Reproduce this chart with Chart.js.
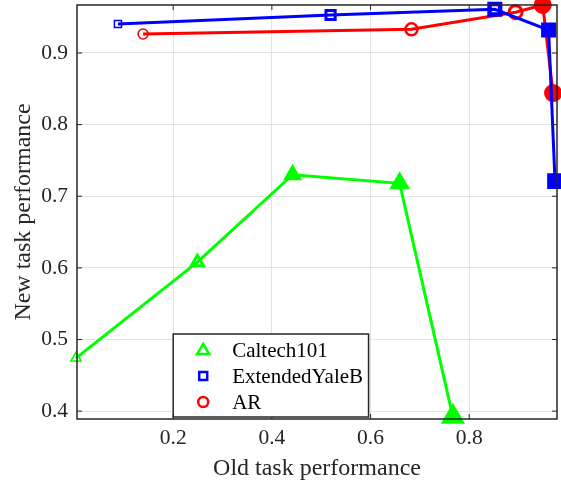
<!DOCTYPE html>
<html>
<head>
<meta charset="utf-8">
<script src="https://cdn.jsdelivr.net/npm/chart.js@4"></script>
<style>
  html, body { margin: 0; padding: 0; background: #fff; }
  #wrap { width: 561px; height: 489px; }
</style>
</head>
<body>
<div id="wrap"><canvas id="chart" width="561" height="489"></canvas></div>
<script>
/* =========================
   DATOS
========================= */
const caltechX = [0.003, 0.249, 0.442, 0.659, 0.767];
const caltechY = [0.474, 0.608, 0.730, 0.718, 0.392];
const yaleX = [0.088, 0.519, 0.852, 0.961, 0.974];
const yaleY = [0.9405, 0.953, 0.961, 0.932, 0.721];
const arX = [0.139, 0.683, 0.894, 0.949, 0.970];
const arY = [0.9265, 0.933, 0.957, 0.967, 0.844];

const xTicks = [0.2, 0.4, 0.6, 0.8];
const yTicks = [0.4, 0.5, 0.6, 0.7, 0.8, 0.9];

const FONT = "'Liberation Serif', 'Times New Roman', serif";
const INK = "#262626";

function pts(xs, ys) {
    return xs.map((x, i) => ({ x: x, y: ys[i] }));
}

/* =========================
   EJES: caja y ticks hacia dentro
========================= */
const boxPlugin = {
    id: "box",
    afterDatasetsDraw(chart) {
        const { ctx, chartArea: a, scales } = chart;
        ctx.save();
        ctx.strokeStyle = INK;
        ctx.lineWidth = 1.5;
        ctx.strokeRect(a.left, a.top, a.right - a.left, a.bottom - a.top);
        ctx.lineWidth = 1;
        xTicks.forEach(v => {
            const px = scales.x.getPixelForValue(v);
            ctx.beginPath();
            ctx.moveTo(px, a.bottom); ctx.lineTo(px, a.bottom - 5);
            ctx.moveTo(px, a.top); ctx.lineTo(px, a.top + 5);
            ctx.stroke();
        });
        yTicks.forEach(v => {
            const py = scales.y.getPixelForValue(v);
            ctx.beginPath();
            ctx.moveTo(a.left, py); ctx.lineTo(a.left + 5, py);
            ctx.moveTo(a.right, py); ctx.lineTo(a.right - 5, py);
            ctx.stroke();
        });
        ctx.restore();
    }
};

/* =========================
   LEYENDA dentro del grafico
========================= */
const legendPlugin = {
    id: "innerLegend",
    afterDraw(chart) {
        const { ctx, scales } = chart;
        const x0 = scales.x.getPixelForValue(0.2);
        const x1 = scales.x.getPixelForValue(0.596);
        const y0 = 334, y1 = 417;
        ctx.save();
        ctx.fillStyle = "#fff";
        ctx.fillRect(x0, y0, x1 - x0, y1 - y0);
        ctx.strokeStyle = INK;
        ctx.lineWidth = 1.5;
        ctx.strokeRect(x0, y0, x1 - x0, y1 - y0);
        ctx.font = "21px " + FONT;
        ctx.textBaseline = "middle";
        chart.data.datasets.forEach((ds, i) => {
            const cy = 350 + i * 26;
            const cx = x0 + 30;
            ctx.strokeStyle = ds.borderColor;
            ctx.lineWidth = 2.5;
            ctx.beginPath();
            if (ds.pointStyle === "triangle") {
                ctx.moveTo(cx, cy - 6); ctx.lineTo(cx + 6, cy + 4); ctx.lineTo(cx - 6, cy + 4); ctx.closePath();
            } else if (ds.pointStyle === "rect") {
                ctx.rect(cx - 4, cy - 4, 8, 8);
            } else {
                ctx.arc(cx, cy, 5, 0, Math.PI * 2);
            }
            ctx.stroke();
            ctx.fillStyle = "#000";
            ctx.fillText(ds.label, x0 + 59, cy + 1);
        });
        ctx.restore();
    }
};

/* =========================
   GRAFICO
========================= */
new Chart(document.getElementById("chart"), {
    type: "scatter",
    data: {
        datasets: [{
            label: "Caltech101",
            data: pts(caltechX, caltechY),
            showLine: true,
            borderColor: "#00ff00",
            borderWidth: 3,
            pointStyle: "triangle",
            pointRadius: [6, 7, 8, 9, 11],
            pointBorderWidth: [1.5, 3, 3, 3, 3],
            pointBackgroundColor: ["rgba(0,0,0,0)", "rgba(0,0,0,0)", "#00ff00", "#00ff00", "#00ff00"],
            clip: false
        }, {
            label: "ExtendedYaleB",
            data: pts(yaleX, yaleY),
            showLine: true,
            borderColor: "#0000ff",
            borderWidth: 3,
            pointStyle: "rect",
            pointRadius: [5, 6.5, 7.5, 8.5, 9],
            pointBorderWidth: [1.5, 3, 4.5, 3, 3],
            pointBackgroundColor: ["rgba(0,0,0,0)", "rgba(0,0,0,0)", "rgba(0,0,0,0)", "#0000ff", "#0000ff"],
            clip: false
        }, {
            label: "AR",
            data: pts(arX, arY),
            showLine: true,
            borderColor: "#ff0000",
            borderWidth: 3,
            pointStyle: "circle",
            pointRadius: [5, 6, 6.5, 7.5, 7.5],
            pointBorderWidth: [1.5, 2.5, 3, 3, 3],
            pointBackgroundColor: ["rgba(0,0,0,0)", "rgba(0,0,0,0)", "rgba(0,0,0,0)", "#ff0000", "#ff0000"],
            clip: false
        }]
    },
    options: {
        responsive: false,
        animation: false,
        layout: { autoPadding: false, padding: { top: 5, right: 4, left: 0, bottom: 0 } },
        plugins: {
            legend: { display: false },
            tooltip: { enabled: false }
        },
        scales: {
            x: {
                type: "linear",
                min: 0.005,
                max: 0.978,
                afterBuildTicks: s => { s.ticks = xTicks.map(v => ({ value: v })); },
                afterFit: s => { s.height = 70; s.paddingLeft = 0; s.paddingRight = 0; },
                ticks: {
                    padding: 6,
                    color: INK,
                    font: { family: FONT, size: 21.5 },
                    callback: v => v.toFixed(1)
                },
                grid: { color: "#e3e3e3", lineWidth: 1, drawTicks: false },
                border: { display: false },
                title: {
                    display: true,
                    text: "Old task performance",
                    color: INK,
                    font: { family: FONT, size: 24 },
                    padding: { top: 0, bottom: 6 }
                }
            },
            y: {
                type: "linear",
                min: 0.389,
                max: 0.967,
                afterBuildTicks: s => { s.ticks = yTicks.map(v => ({ value: v })); },
                afterFit: s => { s.width = 77; s.paddingTop = 0; s.paddingBottom = 0; },
                ticks: {
                    padding: 9,
                    color: INK,
                    font: { family: FONT, size: 21.5 },
                    callback: v => v.toFixed(1)
                },
                grid: { color: "#e3e3e3", lineWidth: 1, drawTicks: false },
                border: { display: false },
                title: {
                    display: true,
                    text: "New task performance",
                    color: INK,
                    font: { family: FONT, size: 24 },
                    padding: { top: 9, bottom: 0 }
                }
            }
        }
    },
    plugins: [boxPlugin, legendPlugin]
});
</script>
</body>
</html>
